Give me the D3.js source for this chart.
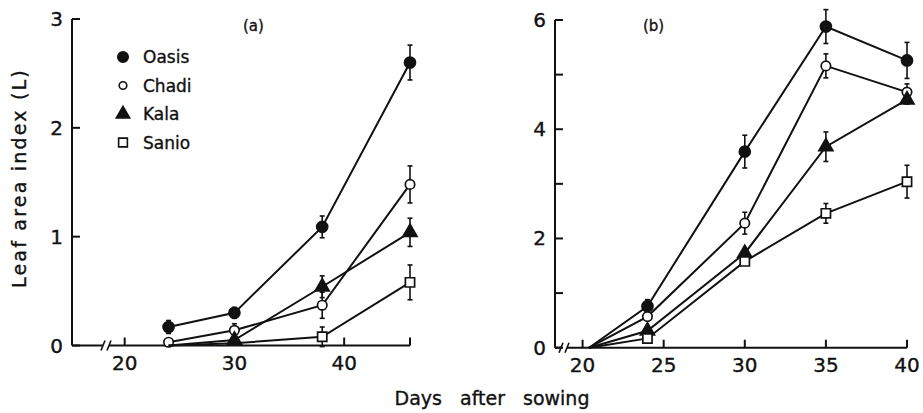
<!DOCTYPE html>
<html><head><meta charset="utf-8">
<script src="https://cdn.jsdelivr.net/npm/d3@7"></script>
<style>
html,body{margin:0;padding:0;background:#fff;}
text{font-family:"DejaVu Sans",sans-serif;fill:#111;stroke:#111;stroke-width:0.35px;}
</style></head>
<body><svg id="c" width="923" height="413"></svg>
<script>
// ---- Data ----
const seriesNames = ["Oasis", "Chadi", "Kala", "Sanio"];
// Panel (a)
const daysA = [24, 30, 38, 46];
const oasisA = [0.17, 0.30, 1.09, 2.60];
const oasisErrA = [0.06, 0.05, 0.10, 0.16];
const chadiA = [0.03, 0.14, 0.37, 1.48];
const chadiErrA = [0, 0.06, 0.12, 0.17];
const kalaA = [0.0, 0.05, 0.54, 1.04];
const kalaErrA = [0, 0, 0.10, 0.13];
const sanioA = [0.0, 0.02, 0.08, 0.58];
const sanioErrA = [0, 0, 0.09, 0.16];
const hiddenA = {Oasis: [], Chadi: [], Kala: [0], Sanio: [0, 1]};
const xTicksA = [20, 30, 40];
const yTicksA = [0, 1, 2, 3];
// Panel (b)
const daysB = [20.4, 24, 30, 35, 40];
const oasisB = [0, 0.76, 3.59, 5.88, 5.26];
const oasisErrB = [0, 0.12, 0.30, 0.31, 0.33];
const chadiB = [0, 0.57, 2.28, 5.16, 4.68];
const chadiErrB = [0, 0, 0.20, 0.22, 0.15];
const kalaB = [0, 0.31, 1.73, 3.68, 4.54];
const kalaErrB = [0, 0, 0.05, 0.27, 0.08];
const sanioB = [0, 0.17, 1.58, 2.46, 3.04];
const sanioErrB = [0, 0, 0.05, 0.18, 0.30];
const hiddenB = {Oasis: [0], Chadi: [0], Kala: [0], Sanio: [0]};
const xTicksB = [20, 25, 30, 35, 40];
const yTicksB = [0, 1, 2, 3, 4, 5, 6];
const yLabelsB = [0, 2, 4, 6];

const svg = d3.select("#c");
const sym = {
  Oasis: {type: d3.symbolCircle, size: 95, fill: "#111"},
  Chadi: {type: d3.symbolCircle, size: 70, fill: "#fff"},
  Kala: {type: d3.symbolTriangle, size: 85, fill: "#111"},
  Sanio: {type: d3.symbolSquare, size: 85, fill: "#fff"}
};

function panel(cfg) {
  const g = svg.append("g");
  const x = d3.scaleLinear().domain(cfg.xDomain).range(cfg.xRange);
  const y = d3.scaleLinear().domain(cfg.yDomain).range(cfg.yRange);
  const y0 = y(0), x0 = cfg.xRange[0];
  const line = g.append("g").attr("stroke", "#111").attr("stroke-width", 2).attr("fill", "none");
  // y axis
  line.append("line").attr("x1", x0).attr("x2", x0).attr("y1", y0).attr("y2", y(cfg.yDomain[1]));
  cfg.yTicks.forEach(t => {
    line.append("line").attr("x1", x0).attr("x2", x0 + 8).attr("y1", y(t)).attr("y2", y(t));
  });
  cfg.yLabels.forEach(t => {
    g.append("text").attr("x", x0 - 9).attr("y", y(t) + 7).attr("text-anchor", "end")
      .attr("font-size", 20).text(t);
  });
  // x axis with break
  const b0 = cfg.breakAt, b1 = cfg.breakAt + 6;
  line.append("line").attr("x1", x0).attr("x2", b0).attr("y1", y0).attr("y2", y0);
  line.append("line").attr("x1", b1).attr("x2", cfg.xRange[1]).attr("y1", y0).attr("y2", y0);
  [b0, b1].forEach(bx => {
    line.append("line").attr("x1", bx - 2).attr("x2", bx + 2).attr("y1", y0 + 5).attr("y2", y0 - 5)
      .attr("stroke-width", 1.6);
  });
  cfg.xTicks.concat(cfg.xEndTick ? [cfg.xDomain[1]] : []).forEach(t => {
    line.append("line").attr("x1", x(t)).attr("x2", x(t)).attr("y1", y0).attr("y2", y0 - 8);
  });
  cfg.xTicks.forEach(t => {
    g.append("text").attr("x", x(t)).attr("y", y0 + 24).attr("text-anchor", "middle")
      .attr("font-size", 20).text(t);
  });
  // series
  cfg.series.forEach(s => {
    const pts = s.vals.map((v, i) => ({d: cfg.days[i], v, e: s.err[i], i}));
    g.append("path").datum(pts)
      .attr("d", d3.line().x(p => x(p.d)).y(p => y(p.v)))
      .attr("fill", "none").attr("stroke", "#111").attr("stroke-width", 2);
    pts.filter(p => p.e > 0).forEach(p => {
      const eg = g.append("g").attr("stroke", "#111").attr("stroke-width", 1.6);
      eg.append("line").attr("x1", x(p.d)).attr("x2", x(p.d)).attr("y1", y(p.v - p.e)).attr("y2", y(p.v + p.e));
      [p.v - p.e, p.v + p.e].forEach(v => eg.append("line")
        .attr("x1", x(p.d) - 2.5).attr("x2", x(p.d) + 2.5).attr("y1", y(v)).attr("y2", y(v)));
    });
    const st = sym[s.name];
    pts.filter(p => !cfg.hidden[s.name].includes(p.i)).forEach(p => {
      g.append("path").attr("d", d3.symbol().type(st.type).size(st.size)())
        .attr("transform", `translate(${x(p.d)},${y(p.v)})`)
        .attr("fill", st.fill).attr("stroke", "#111").attr("stroke-width", 1.7);
    });
  });
  g.append("text").attr("x", cfg.tagX).attr("y", 31).attr("font-size", 15).text(cfg.tag);
  return g;
}

panel({
  xDomain: [15.2, 46], xRange: [72, 410], yDomain: [0, 3], yRange: [345.5, 19],
  days: daysA, xTicks: xTicksA, yTicks: yTicksA, yLabels: yTicksA, xEndTick: true, breakAt: 103,
  hidden: hiddenA, tag: "(a)", tagX: 243,
  series: [
    {name: "Oasis", vals: oasisA, err: oasisErrA},
    {name: "Chadi", vals: chadiA, err: chadiErrA},
    {name: "Kala", vals: kalaA, err: kalaErrA},
    {name: "Sanio", vals: sanioA, err: sanioErrA}
  ]
});
panel({
  xDomain: [18.3, 40], xRange: [555, 907], yDomain: [0, 6], yRange: [347.7, 20],
  days: daysB, xTicks: xTicksB, yTicks: yTicksB, yLabels: yLabelsB, xEndTick: false, breakAt: 561,
  hidden: hiddenB, tag: "(b)", tagX: 643,
  series: [
    {name: "Oasis", vals: oasisB, err: oasisErrB},
    {name: "Chadi", vals: chadiB, err: chadiErrB},
    {name: "Kala", vals: kalaB, err: kalaErrB},
    {name: "Sanio", vals: sanioB, err: sanioErrB}
  ]
});

// legend
const leg = svg.append("g");
seriesNames.forEach((n, i) => {
  const yy = 57 + i * 28.5;
  const st = sym[n];
  leg.append("path").attr("d", d3.symbol().type(st.type).size(n === "Chadi" ? 45 : st.size * 0.9)())
    .attr("transform", `translate(123,${yy})`).attr("fill", st.fill).attr("stroke", "#111").attr("stroke-width", 1.6);
  leg.append("text").attr("x", 143).attr("y", yy + 6).attr("font-size", 17).text(n);
});

// axis titles
svg.append("text").attr("transform", "translate(26,178) rotate(-90)").attr("text-anchor", "middle")
  .attr("font-size", 19).attr("letter-spacing", 2.2).text("Leaf area index (L)");
svg.append("text").attr("x", 492).attr("y", 405).attr("text-anchor", "middle")
  .attr("font-size", 19).attr("word-spacing", 12).text("Days after sowing");
</script></body></html>
